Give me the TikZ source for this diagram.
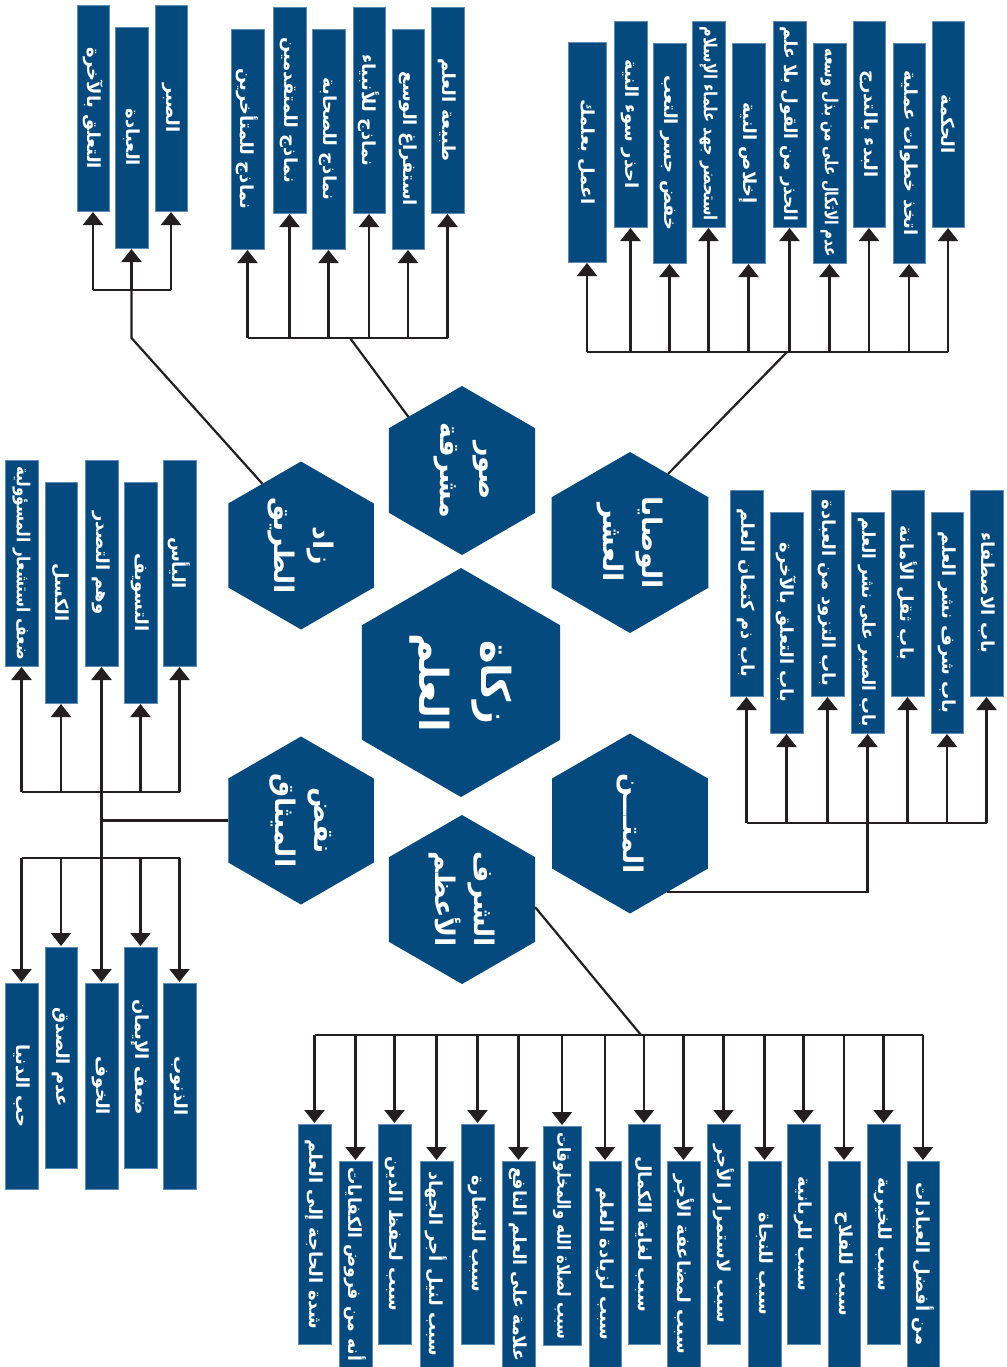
\documentclass[tikz,border=0pt]{standalone}
\usepackage{fontspec}
\usepackage{graphicx}
\usetikzlibrary{arrows.meta,shapes.geometric,calc}
\TeXXeTstate=1
\newfontfamily\arfont[Script=Arabic]{DejaVu Sans}
\definecolor{boxblue}{HTML}{044A7F}
\definecolor{wire}{HTML}{231F20}
\definecolor{rim}{HTML}{5F8AB3}

\newsavebox\lblbox
\newlength\lblmax
% label turned clockwise; squeezed along its length when too long for its box
\newcommand\vlabel[2]{%
  \setlength\lblmax{#1}%
  \sbox\lblbox{\arfont\bfseries\fontsize{18}{20}\selectfont#2}%
  \ifdim\wd\lblbox>\lblmax
    \sbox\lblbox{\resizebox{\lblmax}{\height}{\usebox\lblbox}}%
  \fi
  \rotatebox{-90}{\usebox\lblbox}}

% \tbx{name}{left}{top}{width}{height}{text}
\newcommand\tbx[6]{%
  \node[tbox, minimum width=#4pt, minimum height=#5pt] (#1) at (#2,#3)
    {\vlabel{\dimexpr#5pt-12pt\relax}{#6}};}

\tikzset{
  tbox/.style={draw=rim, line width=0.6pt, fill=boxblue, text=white,
    inner sep=0pt, outer sep=0pt, anchor=north west},
  hexa/.style={regular polygon, regular polygon sides=6, shape border rotate=30,
    fill=boxblue, draw=none, inner sep=0pt, outer sep=0pt, minimum size=#1},
  hexlbl/.style={rotate=-90, align=center, text=white, inner sep=0pt,
    font=\arfont\bfseries\fontsize{27}{39}\selectfont},
  wire/.style={draw=wire, line width=2.2pt},
  arr/.style={wire, -{Triangle[width=20pt,length=13pt]}, shorten >=1pt},
}

\begin{document}
\begin{tikzpicture}[x=1pt,y=-1pt]
\fill[white] (0,0) rectangle (1006,1367);
\useasboundingbox (0,0) rectangle (1006,1367);

% ---- hexagons
\node[hexa=168pt] (hexA) at (301,545.5) {};
\node[hexa=169pt] (hexB) at (462,470.5) {};
\node[hexa=181pt] (hexC) at (630,542.5) {};
\node[hexa=229pt] (hexM) at (461,682.5) {};
\node[hexa=168pt] (hexD) at (301,820.5) {};
\node[hexa=180pt] (hexE) at (630,823.5) {};
\node[hexa=169pt] (hexF) at (462,899.5) {};

\node[hexlbl] (tA) at (hexA) {\beginR زاد\endR\\\beginR الطريق\endR};
\node[hexlbl] (tB) at (hexB) {\beginR صور\endR\\\beginR مشرقة\endR};
\node[hexlbl] (tC) at (hexC) {\beginR الوصايا\endR\\\beginR العشر\endR};
\node[hexlbl, font=\arfont\bfseries\fontsize{40}{62}\selectfont] (tM) at (hexM)
  {\beginR زكاة\endR\\\beginR العلم\endR};
\node[hexlbl] (tD) at (hexD) {\beginR نقض\endR\\\beginR الميثاق\endR};
\node[hexlbl] (tE) at (hexE) {\beginR المتـــن\endR};
\node[hexlbl] (tF) at (hexF) {\beginR الشرف\endR\\\beginR الأعظم\endR};

% ---- provisions of the road
\tbx{zA1}{77}{5}{32}{206}{\beginR التعلق بالآخرة\endR}
\tbx{zA2}{115}{27}{33}{221}{\beginR العبادة\endR}
\tbx{zA3}{155}{5}{32}{206}{\beginR الصبر\endR}

% ---- bright examples
\tbx{sB1}{231}{29}{33}{220}{\beginR نماذج للمتأخرين\endR}
\tbx{sB2}{273}{7}{33}{206}{\beginR نماذج للمتقدمين\endR}
\tbx{sB3}{312}{29}{33}{220}{\beginR نماذج للصحابة\endR}
\tbx{sB4}{353}{7}{32}{206}{\beginR نماذج للأنبياء\endR}
\tbx{sB5}{392}{29}{32}{220}{\beginR استفراغ الوسع\endR}
\tbx{sB6}{431}{7}{33}{206}{\beginR طبيعة العلم\endR}

% ---- ten counsels
\tbx{wC1}{568}{42}{38}{220}{\beginR اعمل بعلمك\endR}
\tbx{wC2}{614}{21}{33}{206}{\beginR احذر سوء النية\endR}
\tbx{wC3}{653}{43}{33}{220}{\beginR خفض جسر التعب\endR}
\tbx{wC4}{692}{21}{33}{206}{\beginR استحضر جهد علماء الإسلام\endR}
\tbx{wC5}{732}{43}{33}{220}{\beginR إخلاص النية\endR}
\tbx{wC6}{773}{21}{33}{206}{\beginR الحذر من القول بلا علم\endR}
\tbx{wC7}{813}{43}{33}{220}{\beginR عدم الاتكال على من بذل وسعه\endR}
\tbx{wC8}{853}{21}{32}{206}{\beginR البدء بالتدرج\endR}
\tbx{wC9}{893}{43}{32}{220}{\beginR اتخذ خطوات عملية\endR}
\tbx{wC10}{932}{21}{32}{206}{\beginR الحكمة\endR}

% ---- breaking the covenant (upper row)
\tbx{nD1}{5}{460}{33}{206}{\beginR ضعف استشعار المسؤولية\endR}
\tbx{nD2}{45}{482}{32}{221}{\beginR الكسل\endR}
\tbx{nD3}{85}{460}{33}{206}{\beginR وهم التصدر\endR}
\tbx{nD4}{124}{482}{33}{221}{\beginR التسويف\endR}
\tbx{nD5}{163}{460}{33}{206}{\beginR اليأس\endR}

% ---- breaking the covenant (lower row)
\tbx{nE1}{5}{983}{33}{206}{\beginR حب الدنيا\endR}
\tbx{nE2}{45}{947}{32}{221}{\beginR عدم الصدق\endR}
\tbx{nE3}{85}{983}{33}{206}{\beginR الخوف\endR}
\tbx{nE4}{124}{947}{33}{221}{\beginR ضعف الإيمان\endR}
\tbx{nE5}{163}{983}{33}{206}{\beginR الذنوب\endR}

% ---- chapters of the text
\tbx{mF1}{730}{490}{33}{206}{\beginR باب ذم كتمان العلم\endR}
\tbx{mF2}{770}{512}{33}{221}{\beginR باب التعلق بالآخرة\endR}
\tbx{mF3}{811}{490}{33}{206}{\beginR باب التزود من العبادة\endR}
\tbx{mF4}{851}{512}{33}{221}{\beginR باب الصبر على نشر العلم\endR}
\tbx{mF5}{891}{490}{33}{206}{\beginR باب ثقل الأمانة\endR}
\tbx{mF6}{931}{512}{32}{221}{\beginR باب شرف نشر العلم\endR}
\tbx{mF7}{970}{490}{33}{206}{\beginR باب الاصطفاء\endR}

% ---- the greatest honour
\tbx{hG1}{298}{1124}{33}{220}{\beginR شدة الحاجة إلى العلم\endR}
\tbx{hG2}{339}{1161}{33}{206}{\beginR أنه من فروض الكفايات\endR}
\tbx{hG3}{378}{1124}{33}{220}{\beginR سبب لحفظ الدين\endR}
\tbx{hG4}{420}{1161}{33}{206}{\beginR سبب لنيل أجر الجهاد\endR}
\tbx{hG5}{461}{1124}{33}{220}{\beginR سبب للنضارة\endR}
\tbx{hG6}{502}{1161}{33}{206}{\beginR علامة على العلم النافع\endR}
\tbx{hG7}{543}{1126}{38}{219}{\beginR سبب لصلاة الله والمخلوقات\endR}
\tbx{hG8}{589}{1161}{32}{206}{\beginR سبب لزيادة العلم\endR}
\tbx{hG9}{628}{1124}{32}{220}{\beginR سبب لغاية الكمال\endR}
\tbx{hG10}{667}{1161}{33}{206}{\beginR سبب لمضاعفة الأجر\endR}
\tbx{hG11}{707}{1124}{33}{220}{\beginR سبب لاستمرار الأجر\endR}
\tbx{hG12}{748}{1161}{33}{206}{\beginR سبب للنجاة\endR}
\tbx{hG13}{787}{1124}{33}{220}{\beginR سبب للربانية\endR}
\tbx{hG14}{828}{1161}{32}{206}{\beginR سبب للفلاح\endR}
\tbx{hG15}{867}{1124}{33}{220}{\beginR سبب للخيرية\endR}
\tbx{hG16}{907}{1161}{32}{206}{\beginR من أفضل العبادات\endR}

% ---- bus levels and joints
\coordinate (busA) at (0,290);
\coordinate (kneeA) at (0,338);
\coordinate (busB) at (0,338);
\coordinate (joinB) at (350,338);
\coordinate (busC) at (0,352);
\coordinate (joinC) at (787,352);
\coordinate (busD) at (0,792);
\coordinate (busE) at (0,858);
\coordinate (busF) at (0,823);
\coordinate (busG) at (0,1035);
\coordinate (joinG) at (641,1035);

% ---- connectors
\foreach \b in {zA1,zA2,zA3} {\draw[arr] (\b.south |- busA) -- (\b.south);}
\draw[wire] (zA1.south |- busA) -- (zA3.south |- busA);
\draw[wire] (zA2.south |- busA) -- (zA2.south |- kneeA) -- (hexA.122);

\foreach \b in {sB1,sB2,sB3,sB4,sB5,sB6} {\draw[arr] (\b.south |- busB) -- (\b.south);}
\draw[wire] (sB1.south |- busB) -- (sB6.south |- busB);
\draw[wire] (joinB) -- (hexB.135);

\foreach \b in {wC1,wC2,wC3,wC4,wC5,wC6,wC7,wC8,wC9,wC10} {\draw[arr] (\b.south |- busC) -- (\b.south);}
\draw[wire] (wC1.south |- busC) -- (wC10.south |- busC);
\draw[wire] (joinC) -- (hexC.61);

\foreach \b in {nD1,nD2,nD3,nD4,nD5} {\draw[arr] (\b.south |- busD) -- (\b.south);}
\draw[wire] (nD1.south |- busD) -- (nD5.south |- busD);
\foreach \b in {nE1,nE2,nE3,nE4,nE5} {\draw[arr] (\b.north |- busE) -- (\b.north);}
\draw[wire] (nE1.north |- busE) -- (nE5.north |- busE);
\draw[wire] (nD3.south |- busD) -- (nD3.south |- busE);
\draw[wire] (hexD.west) -- (hexD.west -| nD3.south);

\foreach \b in {mF1,mF2,mF3,mF4,mF5,mF6,mF7} {\draw[arr] (\b.south |- busF) -- (\b.south);}
\draw[wire] (mF1.south |- busF) -- (mF7.south |- busF);
\draw[wire] (hexE.-62) -| (mF4.south |- busF);

\foreach \b in {hG1,hG2,hG3,hG4,hG5,hG6,hG7,hG8,hG9,hG10,hG11,hG12,hG13,hG14,hG15,hG16} {\draw[arr] (\b.north |- busG) -- (\b.north);}
\draw[wire] (hG1.north |- busG) -- (hG16.north |- busG);
\draw[wire] (hexF.-6) -- (joinG);
\end{tikzpicture}
\end{document}
